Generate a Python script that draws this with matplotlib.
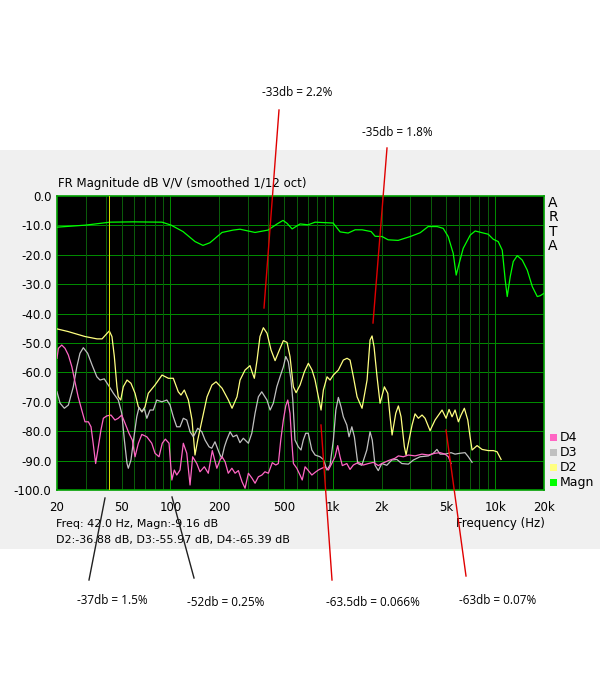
import matplotlib
matplotlib.use("Agg")
import matplotlib.pyplot as plt
from matplotlib.patches import Rectangle
from matplotlib.lines import Line2D

# ---------------- data ----------------
magn_f = [20, 30.1, 42.4, 58.8, 88.7, 100.8, 119.5, 141.7, 158.6, 175, 207.8, 243, 268, 332,
          398.6, 453.7, 493.6, 522.6, 561.7, 629, 704, 778, 1005, 1109, 1243, 1373, 1516,
          1722, 1823, 2013, 2192, 2526, 2996, 3453, 3868, 4395, 4786, 5138, 5517, 5756,
          6006, 6358, 7022, 7538, 8326, 9065, 9732, 10445, 11060, 11540, 11872, 12390,
          12929, 13683, 14691, 15771, 16934, 18179, 18970, 20000]
magn_db = [-10.6, -9.9, -8.9, -8.8, -8.9, -9.9, -12.1, -15.5, -16.8, -15.9, -12.4, -11.6,
           -11.3, -12.4, -11.6, -9.5, -8.3, -9.3, -11.2, -9.5, -9.8, -8.9, -9.2, -12.2,
           -12.6, -11.5, -11.5, -12.1, -13.7, -13.8, -14.9, -15.1, -13.8, -12.5, -10.4,
           -10.4, -11.0, -13.8, -19.5, -26.9, -22.9, -17.8, -13.3, -11.9, -12.5, -13.0,
           -14.7, -15.5, -18.4, -28.6, -34.2, -27.4, -22.3, -20.3, -21.8, -25.2, -30.8,
           -34.2, -33.9, -33.1]

d2_f = [20, 23.4, 29.75, 35.3, 37.9, 40.7, 42.0, 43.6, 45.1, 46.8, 47.7, 49.4, 51.2, 54.0,
        57.1, 60.5, 63.4, 66.8, 69.7, 73.0, 80.3, 88.7, 97.0, 104.1, 111.7, 116.1, 121.7,
        128.9, 135.8, 141.6, 147.2, 156.5, 168, 180, 190.9, 208, 227.4, 239.5, 257, 268.3,
        288, 309, 318, 328.6, 341.5, 356, 373.5, 393.5, 416.5, 441, 468.6, 496, 522.6, 545,
        571.6, 594, 628.4, 668, 707, 745, 777.5, 815, 846.5, 874.7, 921.7, 962, 1008, 1082,
        1161, 1224, 1277, 1339, 1411, 1514, 1626, 1696, 1745, 1795, 1873, 1955, 2078, 2181,
        2253, 2318, 2443, 2535, 2633, 2760, 2827, 2921, 3078, 3211, 3366, 3547, 3701, 3973,
        4265, 4711, 4986, 5203, 5429, 5665, 5938, 6168, 6462, 6783, 7008, 7210, 7740, 8309,
        9088, 9755, 10280, 10875]
d2_db = [-45.2, -46.1, -47.8, -48.6, -48.6, -46.7, -45.9, -47.8, -54.6, -64.9, -68.3, -69.4,
         -64.9, -62.6, -63.7, -67.1, -71.7, -73.4, -71.7, -67.1, -64.3, -60.9, -62.0, -62.0,
         -66.6, -67.7, -66.0, -69.4, -76.2, -88.1, -83.0, -76.2, -68.3, -64.3, -63.2, -65.4,
         -69.4, -72.2, -68.3, -62.6, -59.2, -57.7, -59.8, -62.0, -55.8, -47.8, -44.8, -46.7,
         -52.4, -56.0, -52.4, -49.2, -49.8, -54.6, -64.9, -66.9, -64.3, -59.8, -56.9, -59.2,
         -62.6, -68.3, -72.8, -66.0, -61.5, -62.6, -60.9, -59.2, -55.8, -55.2, -55.8, -61.5,
         -68.3, -72.2, -62.6, -49.0, -47.6, -51.3, -61.5, -70.5, -64.9, -67.1, -75.1, -81.3,
         -73.9, -71.4, -75.1, -85.3, -88.1, -84.1, -77.9, -74.1, -75.6, -74.5, -75.6, -79.8,
         -76.2, -72.8, -75.6, -72.6, -75.1, -72.8, -76.8, -74.5, -72.2, -76.2, -81.9, -86.4,
         -84.9, -86.2, -86.6, -86.6, -87.0, -89.6]

d3_f = [20, 20.9, 22.2, 23.5, 25.2, 26.5, 27.7, 29.05, 30.9, 32.9, 35.2, 36.8, 39.1, 41.4,
        44.5, 47.7, 50.1, 52.0, 54.0, 55.0, 57.1, 59.6, 62.0, 64.0, 66.6, 68.9, 71.5, 74.8,
        78.4, 82.3, 88.5, 95, 99.4, 104.1, 109.3, 114.5, 120, 126, 132, 138.4, 147.2, 156,
        163.3, 172.8, 179.5, 188, 200, 207, 215, 222, 233, 243, 256, 268, 281, 302, 317, 332,
        348, 365, 393, 411, 430, 452, 473, 496, 513, 532, 553, 567, 585, 613, 637, 658, 681,
        706, 743, 778, 835, 874, 920, 962, 1008, 1044, 1082, 1124, 1161, 1220, 1259, 1310,
        1358, 1425, 1510, 1620, 1696, 1750, 1821, 1906, 2004, 2150, 2310, 2480, 2660, 2921,
        3135, 3448, 3878, 4164, 4380, 4580, 4915, 5353, 5665, 6081, 6528, 6840, 7210]
d3_db = [-66.6, -70.5, -72.2, -71.1, -64.9, -58.1, -53.5, -51.6, -53.5, -57.5, -61.5, -62.6,
         -62.2, -64.3, -67.1, -69.4, -73.9, -83.0, -91.0, -92.6, -89.8, -81.9, -75.1, -71.9,
         -73.4, -72.2, -75.6, -72.8, -72.8, -69.4, -70.0, -69.4, -71.1, -75.1, -78.5, -78.5,
         -75.6, -76.2, -80.2, -81.9, -79.0, -80.2, -83.0, -85.3, -85.8, -83.6, -87.5, -89.2,
         -85.3, -83.0, -80.2, -81.9, -81.3, -83.9, -82.4, -84.1, -80.7, -73.9, -68.3, -66.6,
         -69.4, -72.8, -70.5, -64.9, -61.5, -58.1, -54.6, -56.4, -62.6, -69.4, -83.0, -85.3,
         -86.4, -83.0, -80.7, -80.7, -86.4, -88.1, -88.7, -89.6, -93.2, -91.5, -83.0, -72.8,
         -68.5, -71.7, -75.1, -77.9, -81.9, -78.5, -81.9, -91.0, -91.6, -86.4, -80.2, -83.0,
         -91.6, -93.4, -91.0, -91.6, -89.8, -89.6, -91.0, -91.2, -89.8, -88.7, -88.4, -87.5,
         -86.2, -87.8, -87.8, -87.3, -87.8, -87.5, -87.3, -88.7, -90.6]

d4_f = [20, 20.4, 21.4, 22.4, 23.5, 24.7, 25.8, 27.0, 28.4, 29.75, 31.2, 32.4, 33.4, 34.6,
        35.95, 37.3, 38.6, 40.5, 43.0, 45.5, 47.7, 50.1, 52.5, 55.5, 58.2, 60.5, 63.4, 66.6,
        71.5, 76.7, 80.3, 85.0, 89.0, 93.0, 98.0, 102, 105.6, 109.3, 114.5, 120, 126, 132,
        137, 145.2, 152, 161.7, 171, 181, 193, 202, 208, 217, 227, 239, 250, 262, 276, 288,
        302, 318, 332, 348, 366, 382, 401, 424, 445, 462, 478, 496, 513, 528, 545, 558, 572,
        600, 628, 648, 675, 707, 743, 778, 815, 857, 896, 939, 985, 1032, 1072, 1108, 1145,
        1220, 1277, 1339, 1438, 1543, 1657, 1778, 1908, 2004, 2200, 2418, 2535, 2722, 2921,
        3211, 3540, 3878, 4265, 4580, 4915, 5153, 5353]
d4_db = [-55.2, -51.8, -50.7, -51.8, -54.1, -58.1, -63.2, -68.3, -72.8, -76.8, -76.8, -78.5,
         -84.1, -91.0, -85.3, -79.6, -75.6, -74.8, -74.5, -76.2, -75.6, -74.5, -77.3, -80.7,
         -83.0, -88.7, -84.1, -81.1, -81.9, -84.1, -87.5, -88.7, -84.1, -82.7, -84.1, -96.6,
         -93.2, -94.9, -93.2, -84.1, -87.5, -98.3, -88.7, -91.0, -93.8, -92.1, -94.3, -86.6,
         -92.6, -89.8, -88.7, -90.4, -94.3, -92.6, -94.3, -93.4, -97.2, -99.4, -94.3, -96.0,
         -97.7, -95.5, -94.9, -93.8, -94.3, -90.7, -91.5, -91.0, -83.0, -76.2, -71.4, -69.4,
         -73.9, -83.0, -91.0, -92.6, -94.9, -96.6, -92.1, -93.4, -94.9, -94.0, -93.2, -92.6,
         -92.1, -93.2, -91.0, -88.7, -84.9, -88.7, -91.7, -91.0, -93.0, -91.5, -90.6, -91.5,
         -91.0, -90.6, -91.7, -91.0, -90.0, -89.2, -88.4, -88.7, -88.1, -88.4, -87.8, -88.1,
         -87.5, -87.3, -87.8, -88.7, -91.0]

series_names = ["D4", "D3", "D2", "Magn"]
series_colors = ["#ff66c4", "#c0c0c0", "#ffff80", "#00ff00"]

x_tick_vals = [20, 50, 100, 200, 500, 1000, 2000, 5000, 10000, 20000]
x_tick_labels = ["20", "50", "100", "200", "500", "1k", "2k", "5k", "10k", "20k"]
y_tick_vals = [0, -10, -20, -30, -40, -50, -60, -70, -80, -90, -100]
y_tick_labels = ["0.0", "-10.0", "-20.0", "-30.0", "-40.0", "-50.0", "-60.0", "-70.0",
                 "-80.0", "-90.0", "-100.0"]
decade_grid = [100, 1000, 10000]
minor_grid = [30, 40, 50, 60, 70, 80, 90, 200, 300, 400, 500, 600, 700, 800, 900,
              2000, 3000, 4000, 5000, 6000, 7000, 8000, 9000]
cursor_freq = 42.0

title_text = "FR Magnitude dB V/V (smoothed 1/12 oct)"
readout1 = "Freq: 42.0 Hz, Magn:-9.16 dB"
readout2 = "D2:-36.88 dB, D3:-55.97 dB, D4:-65.39 dB"
xlabel_text = "Frequency (Hz)"
notes = ["-33db = 2.2%", "-35db = 1.8%", "-37db = 1.5%", "-52db = 0.25%",
         "-63.5db = 0.066%", "-63db = 0.07%"]

# ---------------- layout ----------------
W, H = 600, 700
fig = plt.figure(figsize=(6, 7), dpi=100)
fig.patch.set_facecolor("white")


def fx(px):
    return px / W


def fy(py):
    return 1 - py / H


fig.patches.append(Rectangle((0, fy(549)), 1, fy(150) - fy(549), transform=fig.transFigure,
                             facecolor="#f0f0f0", edgecolor="none", zorder=-10))

ax = fig.add_axes([fx(57), fy(490), fx(544) - fx(57), fy(196) - fy(490)])
ax.set_zorder(1)
ax.set_facecolor("black")
ax.set_xscale("log")
ax.set_xlim(20, 20000)
ax.set_ylim(-100, 0)

glw = 0.72
for v in y_tick_vals[1:-1]:
    ax.axhline(v, color="#008a00", lw=glw, zorder=1, antialiased=False)
for v in minor_grid:
    ax.axvline(v, color="#0a5a0a", lw=glw, zorder=1, antialiased=False)
for v in decade_grid:
    ax.axvline(v, color="#008a00", lw=glw, zorder=1, antialiased=False)

lw = 0.9
ax.plot(magn_f, magn_db, color=series_colors[3], lw=lw, zorder=3)
ax.plot(d2_f, d2_db, color=series_colors[2], lw=lw, zorder=4)
ax.plot(d3_f, d3_db, color=series_colors[1], lw=lw, zorder=5)
ax.plot(d4_f, d4_db, color=series_colors[0], lw=lw, zorder=6)
ax.axvline(cursor_freq, color="#d8d800", lw=glw, zorder=7, antialiased=False)

for s in ax.spines.values():
    s.set_color("#00a000")
    s.set_linewidth(1.2)

ax.set_xticks(x_tick_vals)
ax.set_xticklabels(x_tick_labels)
ax.xaxis.set_minor_locator(matplotlib.ticker.NullLocator())
ax.set_yticks(y_tick_vals)
ax.set_yticklabels(y_tick_labels)
ax.tick_params(axis="both", length=0, labelsize=8.5, colors="#000000")
ax.tick_params(axis="x", pad=8)
ax.tick_params(axis="y", pad=4)

fnt = "DejaVu Sans"
fig.text(fx(58), fy(184), title_text, fontsize=8.5, family=fnt, ha="left", va="center")
fig.text(fx(56), fy(524), readout1, fontsize=8, family=fnt, ha="left", va="center")
fig.text(fx(56), fy(540), readout2, fontsize=8, family=fnt, ha="left", va="center")
fig.text(fx(545), fy(524), xlabel_text, fontsize=8.5, family=fnt, ha="right", va="center")

for i, ch in enumerate("ARTA"):
    fig.text(fx(553), fy(203 + 14.4 * i), ch, fontsize=10, family=fnt, ha="center", va="center")

for i, (name, col) in enumerate(zip(series_names, series_colors)):
    yc = 437.5 + 15 * i
    fig.patches.append(Rectangle((fx(550), fy(yc + 3.5)), fx(7), 7 / H, transform=fig.transFigure,
                                 facecolor=col, edgecolor="none", zorder=2))
    fig.text(fx(560), fy(yc), name, fontsize=9, family=fnt, ha="left", va="center")

# annotations
note_pos = [(297, 93), (397, 132), (112, 601), (226, 602), (373, 603), (498, 600)]
for t, (px, py) in zip(notes, note_pos):
    fig.text(fx(px), fy(py), t, fontsize=8.5, family="Open Sans", ha="center", va="center")

red_lines = [((279, 110), (264, 308)), ((387, 148), (373, 323)),
             ((321, 425), (332, 580)), ((446, 430), (466, 576))]
black_lines = [((105, 498), (89, 580)), ((172, 497), (194, 578))]
for (a, b) in red_lines:
    fig.add_artist(Line2D([fx(a[0]), fx(b[0])], [fy(a[1]), fy(b[1])], transform=fig.transFigure,
                          color="#e00000", lw=1.0, zorder=10))
for (a, b) in black_lines:
    fig.add_artist(Line2D([fx(a[0]), fx(b[0])], [fy(a[1]), fy(b[1])], transform=fig.transFigure,
                          color="#202020", lw=1.0, zorder=10))

fig.savefig("out.png", dpi=100, facecolor="white")
